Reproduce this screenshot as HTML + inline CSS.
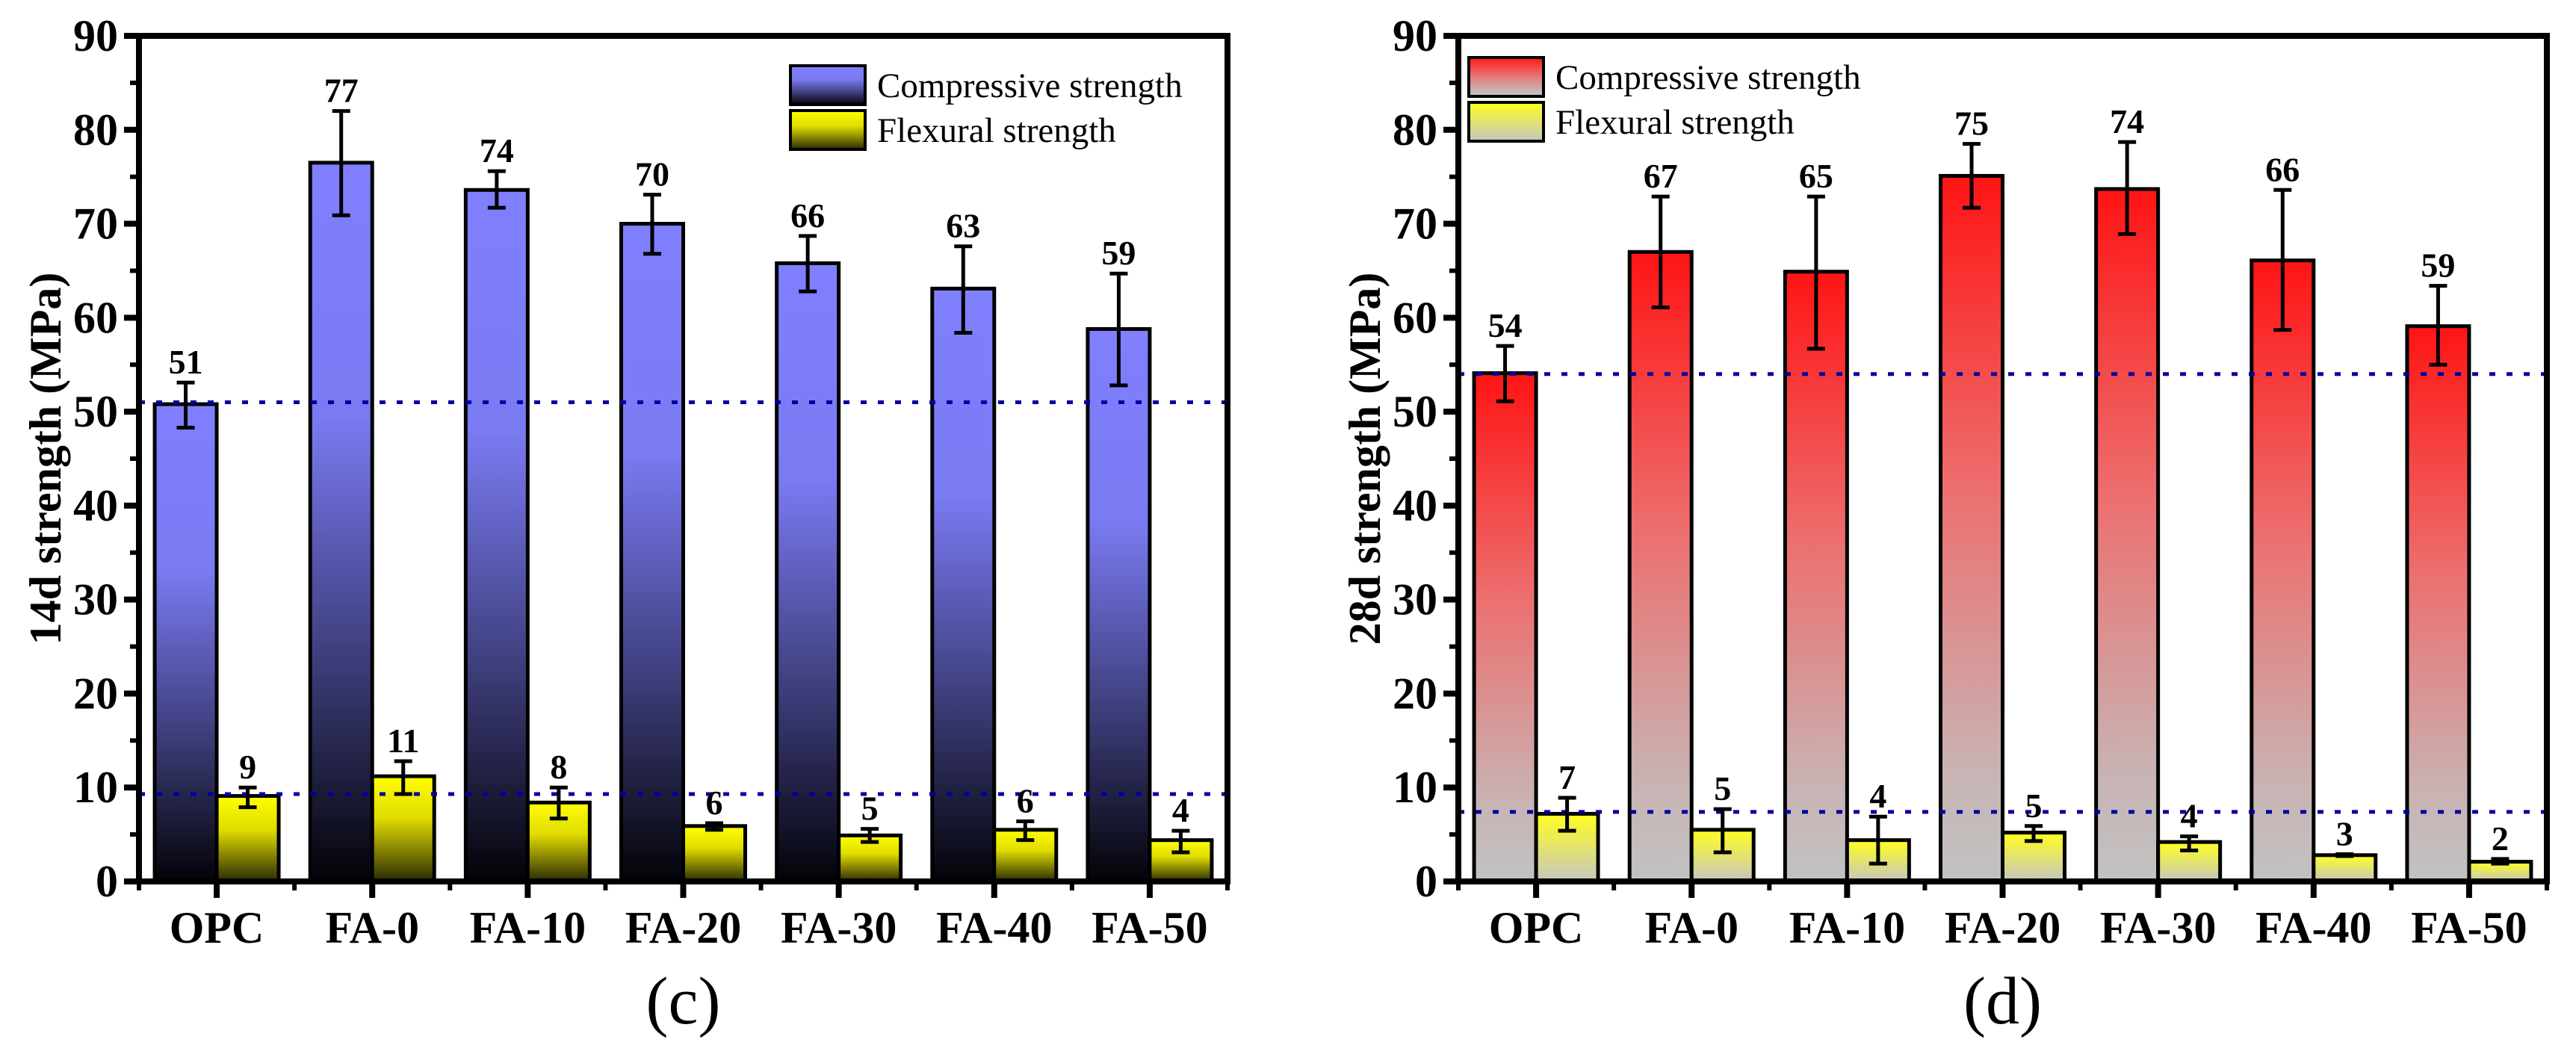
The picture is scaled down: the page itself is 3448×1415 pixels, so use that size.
<!DOCTYPE html>
<html><head><meta charset="utf-8"><style>
html,body{margin:0;padding:0;background:#fff;}
svg{display:block;}
text{font-family:"Liberation Serif","Times New Roman",serif;fill:#000;}
</style></head>
<body>
<svg id="chart" width="3448" height="1415" viewBox="0 0 3448 1415" xmlns="http://www.w3.org/2000/svg">
<defs>
<linearGradient id="gBlue" x1="0" y1="0" x2="0" y2="1">
<stop offset="0" stop-color="#8080ff"/><stop offset="0.35" stop-color="#7a7af2"/><stop offset="0.7" stop-color="#3c3c78"/><stop offset="1" stop-color="#030308"/></linearGradient>
<linearGradient id="gYel" x1="0" y1="0" x2="0" y2="1">
<stop offset="0" stop-color="#ffff00"/><stop offset="0.4" stop-color="#e0dc00"/><stop offset="1" stop-color="#2a2a05"/></linearGradient>
<linearGradient id="gRed" x1="0" y1="0" x2="0" y2="1">
<stop offset="0" stop-color="#ff1414"/><stop offset="0.45" stop-color="#ec7070"/><stop offset="0.85" stop-color="#c8b4b4"/><stop offset="1" stop-color="#c2c2c2"/></linearGradient>
<linearGradient id="gYel2" x1="0" y1="0" x2="0" y2="1">
<stop offset="0" stop-color="#ffff20"/><stop offset="1" stop-color="#c6c6c0"/></linearGradient>
</defs>
</svg>
<script>
const categories = ["OPC","FA-0","FA-10","FA-20","FA-30","FA-40","FA-50"];
const yTicks = [0,10,20,30,40,50,60,70,80,90];
const comp14 = [50.8,76.5,73.6,70.0,65.8,63.1,58.8];
const comp14Hi = [53.1,82.0,75.6,73.1,68.7,67.6,64.7];
const comp14Lo = [48.3,70.9,71.7,66.8,62.8,58.4,52.8];
const comp14Labels = ["51","77","74","70","66","63","59"];
const flex14 = [9.1,11.2,8.4,5.9,4.9,5.5,4.4];
const flex14Hi = [10.0,12.8,10.0,6.2,5.6,6.4,5.4];
const flex14Lo = [7.9,9.3,6.7,5.5,4.2,4.4,3.1];
const flex14Labels = ["9","11","8","6","5","6","4"];
const ref14 = [51, 9.3];
const comp28 = [54.1,67.0,64.9,75.1,73.7,66.1,59.1];
const comp28Hi = [57.0,72.9,72.9,78.5,78.7,73.6,63.4];
const comp28Lo = [51.1,61.1,56.7,71.7,68.9,58.7,55.0];
const comp28Labels = ["54","67","65","75","74","66","59"];
const flex28 = [7.2,5.5,4.4,5.2,4.2,2.8,2.1];
const flex28Hi = [8.9,7.7,6.9,5.9,4.8,2.9,2.4];
const flex28Lo = [5.4,3.1,1.9,4.3,3.3,2.7,1.9];
const flex28Labels = ["7","5","4","5","4","3","2"];
const ref28 = [54, 7.4];

const svg = document.getElementById('chart');
const NS = 'http://www.w3.org/2000/svg';
function mk(tag, attrs, parent){
  const e = document.createElementNS(NS, tag);
  for (const k in attrs) e.setAttribute(k, attrs[k]);
  (parent||svg).appendChild(e);
  return e;
}

function drawPanel(p){
  const top = 48, bot = 1180;
  const L = p.left, R = p.left + 1457;
  const step = (R - L) / categories.length;
  const xC = i => L + step * (i + 0.5);
  const yS = v => bot - (v / 90) * (bot - top);
  const bw = 83;
  const g = mk('g', {});
  
  

  categories.forEach((c, i) => {
    const cx = xC(i);
    const b1 = mk('rect', {x: cx - bw, y: yS(p.comp[i]), width: bw, height: bot - yS(p.comp[i]), fill: p.compFill, stroke: '#000', 'stroke-width': 5}, g);
    
    
    const b2 = mk('rect', {x: cx, y: yS(p.flex[i]), width: bw, height: bot - yS(p.flex[i]), fill: p.flexFill, stroke: '#000', 'stroke-width': 5}, g);
    
    
  });
  p.ref.forEach((v, k) => {
    const l = mk('line', {x1: L, x2: R, y1: yS(v), y2: yS(v), stroke: '#0000a0', 'stroke-width': 5, 'stroke-dasharray': '8 15'}, g);
    
    
  });
  categories.forEach((c, i) => {
    const sets = [[xC(i) - bw/2, p.comp, p.compHi, p.compLo, p.compLab, 'compressive'], [xC(i) + bw/2, p.flex, p.flexHi, p.flexLo, p.flexLab, 'flexural']];
    sets.forEach(s => {
      const x = s[0], hi = yS(s[2][i]), lo = yS(s[3][i]);
      const eg = mk('g', {stroke: '#000', 'stroke-width': 5}, g);
      
      
      mk('line', {x1: x, x2: x, y1: hi, y2: lo}, eg);
      mk('line', {x1: x - 12, x2: x + 12, y1: hi, y2: hi}, eg);
      mk('line', {x1: x - 12, x2: x + 12, y1: lo, y2: lo}, eg);
      const t = mk('text', {x: x, y: hi - 12, 'text-anchor': 'middle', 'font-size': 46, 'font-weight': 'bold'}, g);
      t.textContent = s[4][i];
      
      
    });
  });
  const fr = mk('rect', {x: L, y: top, width: R - L, height: bot - top, fill: 'none', stroke: '#000', 'stroke-width': 8}, g);
  
  
  yTicks.forEach(v => {
    mk('line', {x1: L - 20, x2: L, y1: yS(v), y2: yS(v), stroke: '#000', 'stroke-width': 8}, g);
    if (v < 90) mk('line', {x1: L - 12, x2: L, y1: yS(v + 5), y2: yS(v + 5), stroke: '#000', 'stroke-width': 6}, g);
    const t = mk('text', {x: L - 28, y: yS(v) + 20, 'text-anchor': 'end', 'font-size': 60, 'font-weight': 'bold'}, g);
    t.textContent = v;
    
    
  });
  categories.forEach((c, i) => {
    mk('line', {x1: xC(i), x2: xC(i), y1: bot, y2: bot + 22, stroke: '#000', 'stroke-width': 8}, g);
    const t = mk('text', {x: xC(i), y: 1262, 'text-anchor': 'middle', 'font-size': 60, 'font-weight': 'bold'}, g);
    t.textContent = c;
    
    
  });
  for (let i = 0; i <= categories.length; i++) {
    mk('line', {x1: L + step * i, x2: L + step * i, y1: bot, y2: bot + 12, stroke: '#000', 'stroke-width': 6}, g);
  }
  const yt = mk('text', {x: 0, y: 0, 'text-anchor': 'middle', 'font-size': 60, 'font-weight': 'bold', transform: 'translate(' + (L - 105) + ',614) rotate(-90)'}, g);
  yt.textContent = p.ytitle;
  
  
  const pl = mk('text', {x: (L + R) / 2, y: 1370, 'text-anchor': 'middle', 'font-size': 90}, g);
  pl.textContent = p.letter;
  
  
  const lg = mk('g', {}, g);
  
  
  [[p.compFill, 'Compressive strength', 0], [p.flexFill, 'Flexural strength', 1]].forEach(e => {
    const y0 = p.legY + e[2] * 60;
    const r = mk('rect', {x: p.legX, y: y0, width: 100, height: 52, fill: e[0], stroke: '#000', 'stroke-width': 4}, lg);
    
    
    const t = mk('text', {x: p.legX + 116, y: y0 + 42, 'font-size': 47}, lg);
    t.textContent = e[1];
    
    
  });
}

drawPanel({name: 'chart-14d', left: 186, comp: comp14, compHi: comp14Hi, compLo: comp14Lo, compLab: comp14Labels,
  flex: flex14, flexHi: flex14Hi, flexLo: flex14Lo, flexLab: flex14Labels, ref: ref14,
  compFill: 'url(#gBlue)', flexFill: 'url(#gYel)', ytitle: '14d strength (MPa)', letter: '(c)', legX: 1058, legY: 88});
drawPanel({name: 'chart-28d', left: 1952, comp: comp28, compHi: comp28Hi, compLo: comp28Lo, compLab: comp28Labels,
  flex: flex28, flexHi: flex28Hi, flexLo: flex28Lo, flexLab: flex28Labels, ref: ref28,
  compFill: 'url(#gRed)', flexFill: 'url(#gYel2)', ytitle: '28d strength (MPa)', letter: '(d)', legX: 1966, legY: 77});
</script>
</body></html>
